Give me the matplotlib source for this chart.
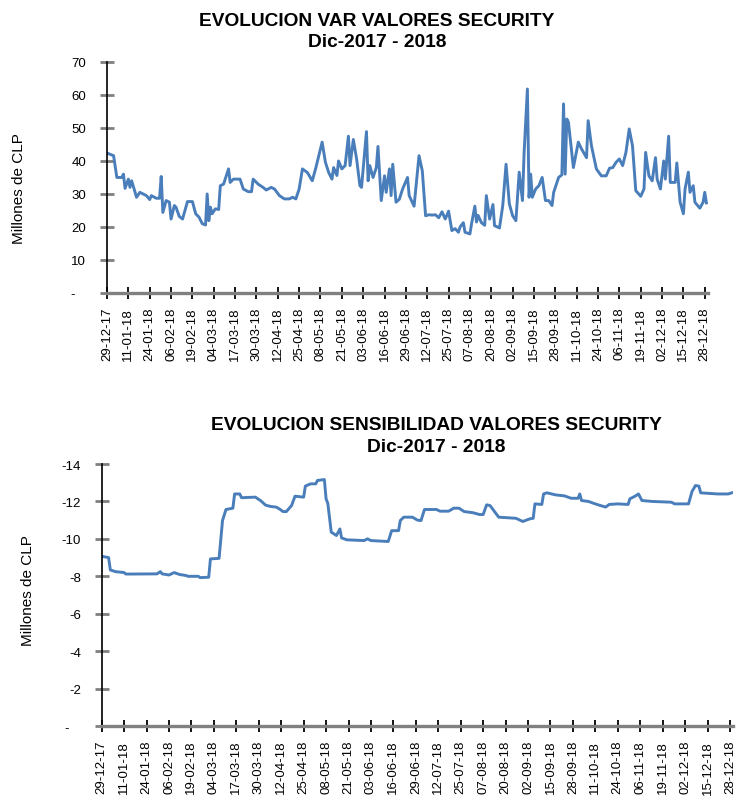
import numpy as np
import matplotlib.pyplot as plt

plt.rcParams['font.family'] = ['Liberation Sans', 'DejaVu Sans']

# x axis labels, one every 13 days from 29-12-17
date_labels = ['29-12-17', '11-01-18', '24-01-18', '06-02-18', '19-02-18', '04-03-18',
               '17-03-18', '30-03-18', '12-04-18', '25-04-18', '08-05-18', '21-05-18',
               '03-06-18', '16-06-18', '29-06-18', '12-07-18', '25-07-18', '07-08-18',
               '20-08-18', '02-09-18', '15-09-18', '28-09-18', '11-10-18', '24-10-18',
               '06-11-18', '19-11-18', '02-12-18', '15-12-18', '28-12-18']

# VaR (millones de CLP), days since 29-12-17
var_days = [0, 4, 6, 9, 10, 11, 13, 14, 15, 18, 20, 22, 24, 26, 27, 30, 32, 33, 34, 36,
            38, 39, 41, 42, 44, 46, 49, 52, 54, 56, 58, 60, 61, 62, 63, 64, 66, 68, 69, 71,
            74, 75, 77, 81, 83, 86, 88, 89, 92, 95, 97, 100, 102, 105, 108, 111, 113, 115, 117, 119,
            122, 125, 127, 131, 133, 135, 137, 138, 140, 141, 143, 145, 147, 148, 150, 152, 154, 155, 158, 159,
            160, 162, 164, 165, 167, 169, 170, 172, 173, 174, 176, 178, 180, 183, 184, 187, 190, 192, 194, 196,
            198, 200, 202, 204, 206, 208, 210, 212, 214, 215, 217, 218, 221, 222, 224, 225, 226, 228, 230, 231,
            233, 235, 236, 239, 241, 243, 245, 247, 249, 251, 253, 254, 256, 257, 258, 259, 261, 263, 265, 267,
            269, 271, 272, 274, 275, 277, 278, 279, 280, 281, 283, 284, 287, 289, 292, 293, 295, 298, 301, 304,
            306, 308, 310, 312, 314, 316, 318, 320, 322, 325, 327, 328, 330, 332, 334, 335, 337, 339, 340, 342,
            343, 346, 347, 349, 351, 352, 354, 355, 357, 358, 361, 363, 364, 365]
var_vals = [42.4, 41.6, 35.0, 35.0, 36.0, 31.7, 34.5, 32.0, 34.0, 29.0, 30.5, 30.0, 29.5, 28.3, 29.5, 28.7, 28.7, 35.3, 24.4, 28.0,
            27.5, 22.4, 26.5, 26.0, 23.2, 22.4, 27.7, 27.7, 24.0, 23.0, 21.0, 20.6, 30.0, 21.9, 26.0, 24.0, 25.5, 25.3, 32.5, 33.0,
            37.6, 33.5, 34.5, 34.5, 31.5, 30.7, 30.7, 34.5, 33.0, 32.0, 31.2, 32.0, 31.5, 29.5, 28.5, 28.5, 29.0, 28.5, 31.5, 37.6,
            36.5, 34.0, 37.6, 45.7, 39.6, 36.5, 34.5, 38.0, 35.6, 40.0, 37.6, 38.6, 47.5, 38.6, 46.5, 40.6, 32.5, 32.0, 48.9, 34.0,
            38.6, 35.0, 38.0, 44.4, 28.0, 35.5, 30.5, 37.6, 29.5, 39.0, 27.5, 28.4, 31.5, 35.0, 29.5, 26.3, 41.6, 37.0, 23.4, 23.7,
            23.6, 23.7, 22.8, 24.6, 22.4, 24.8, 18.9, 19.5, 18.4, 20.0, 21.3, 18.4, 17.9, 21.0, 26.3, 21.5, 23.5, 21.3, 20.5, 29.5,
            22.4, 26.8, 20.4, 19.7, 26.5, 39.0, 27.0, 23.4, 21.9, 36.6, 28.0, 42.6, 61.8, 29.0, 36.0, 29.0, 31.5, 32.5, 35.0, 28.0,
            28.0, 26.5, 30.5, 33.5, 35.0, 35.8, 57.3, 36.0, 52.7, 51.7, 42.6, 38.0, 45.7, 43.6, 41.0, 52.2, 44.6, 37.6, 35.5, 35.5,
            37.8, 38.0, 39.6, 40.6, 38.6, 42.6, 49.7, 44.6, 31.0, 29.3, 31.5, 42.6, 35.5, 34.0, 41.0, 34.5, 31.5, 40.0, 34.5, 47.5,
            33.5, 33.5, 39.4, 27.5, 24.0, 31.5, 36.6, 30.5, 32.5, 27.5, 25.7, 27.5, 30.5, 27.3]

# Sensibilidad (millones de CLP), days since 29-12-17
sens_days = [0, 4, 5, 8, 13, 14, 32, 34, 35, 39, 42, 45, 49, 50, 56, 57, 62, 63, 68, 70,
             72, 76, 77, 80, 81, 89, 92, 95, 98, 101, 103, 105, 107, 110, 112, 117, 118, 121, 124, 125,
             129, 130, 131, 133, 136, 138, 139, 142, 152, 154, 156, 166, 168, 172, 173, 175, 180, 183, 185, 187,
             194, 196, 201, 204, 207, 210, 215, 219, 221, 223, 225, 230, 240, 244, 248, 250, 251, 255, 256, 258,
             263, 268, 272, 276, 277, 278, 282, 285, 289, 292, 294, 299, 305, 306, 309, 311, 313, 319, 330, 332,
             340, 342, 344, 346, 347, 357, 363, 365]
sens_vals = [-9.07, -9.0, -8.34, -8.25, -8.2, -8.12, -8.13, -8.25, -8.13, -8.07, -8.2, -8.1, -8.04, -8.0, -8.0, -7.93, -7.95, -8.93, -8.96, -10.98,
             -11.57, -11.64, -12.4, -12.4, -12.2, -12.23, -12.05, -11.8, -11.73, -11.7, -11.6, -11.46, -11.46, -11.78, -12.28, -12.23, -12.82, -12.94, -12.94, -13.12,
             -13.17, -12.14, -11.9, -10.36, -10.18, -10.53, -10.05, -9.95, -9.91, -10.0, -9.91, -9.86, -10.44, -10.44, -10.98, -11.16, -11.16, -11.0, -10.98, -11.57,
             -11.57, -11.48, -11.48, -11.64, -11.64, -11.46, -11.4, -11.3, -11.3, -11.82, -11.78, -11.16, -11.1, -10.93, -11.07, -11.1, -11.87, -11.84, -12.4, -12.46,
             -12.35, -12.3, -12.17, -12.17, -12.4, -12.05, -12.0, -11.9, -11.78, -11.7, -11.84, -11.87, -11.84, -12.14, -12.28, -12.4, -12.05, -12.0, -11.96, -11.87,
             -11.87, -12.53, -12.85, -12.82, -12.46, -12.4, -12.4, -12.46]

line_color = '#4a7ebb'
tick_pos = np.arange(len(date_labels)) * 13


def style_axes(ax):
    for side in ['top', 'right']:
        ax.spines[side].set_visible(False)
    ax.spines['left'].set_color('black')
    ax.spines['left'].set_linewidth(1.2)
    ax.spines['bottom'].set_color('#808080')
    ax.spines['bottom'].set_linewidth(2.4)
    ax.set_xticks(tick_pos)
    ax.set_xticklabels(date_labels, rotation=90, fontsize=9.5)
    ax.tick_params(axis='x', direction='inout', length=8, width=1.3, color='black', pad=6)
    ax.tick_params(axis='y', direction='inout', length=10, width=2, color='#808080', labelsize=9.5, pad=10)


fig = plt.figure(figsize=(7.38, 8.03), dpi=100)

# top chart: VaR
ax1 = fig.add_axes([0.145, 0.6339, 0.8144, 0.2877])
ax1.plot(var_days, var_vals, color=line_color, lw=2.1, solid_joinstyle='round')
ax1.set_xlim(0, 366)
ax1.set_ylim(0, 70)
ax1.set_yticks(range(0, 80, 10))
ax1.set_yticklabels(['-   '] + [str(v) for v in range(10, 80, 10)])
style_axes(ax1)

fig.text(0.511, 0.9738, 'EVOLUCION VAR VALORES SECURITY', ha='center', va='center',
         fontsize=13.8, fontweight='bold')
fig.text(0.511, 0.9465, 'Dic-2017 - 2018', ha='center', va='center',
         fontsize=13.8, fontweight='bold')
fig.text(19 / 738, 1 - 189 / 803, 'Millones de CLP', rotation=90, ha='center', va='center',
         fontsize=11)

# bottom chart: sensibilidad
ax2 = fig.add_axes([0.1378, 0.0946, 0.856, 0.3263])
ax2.plot(sens_days, sens_vals, color=line_color, lw=2.1, solid_joinstyle='round')
ax2.set_xlim(0, 366)
ax2.set_ylim(0, -14)
ax2.set_yticks(range(0, -16, -2))
ax2.set_yticklabels(['-   '] + [str(v) for v in range(-2, -16, -2)])
style_axes(ax2)

fig.text(0.5908, 0.4695, 'EVOLUCION SENSIBILIDAD VALORES SECURITY', ha='center', va='center',
         fontsize=13.8, fontweight='bold')
fig.text(0.5908, 0.4421, 'Dic-2017 - 2018', ha='center', va='center',
         fontsize=13.8, fontweight='bold')
fig.text(28 / 738, 1 - 591 / 803, 'Millones de CLP', rotation=90, ha='center', va='center',
         fontsize=11)

fig.savefig('out.png', dpi=100)
